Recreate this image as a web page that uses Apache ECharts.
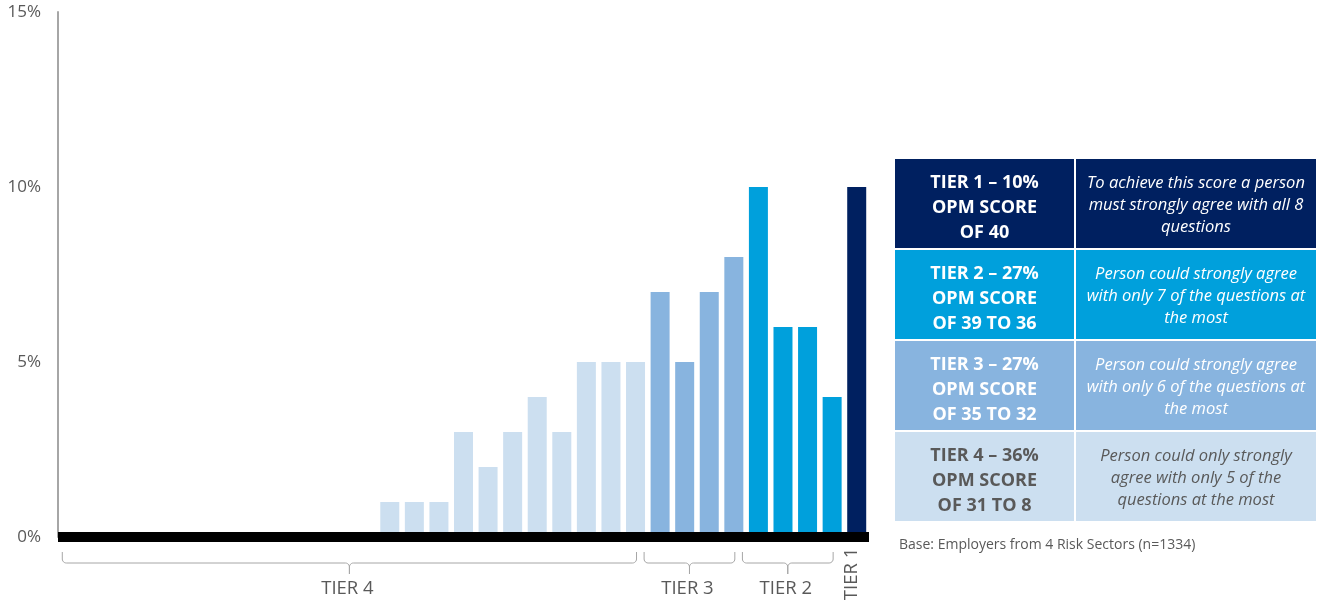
<!DOCTYPE html>
<html>
<head>
<meta charset="utf-8">
<script src="https://cdn.jsdelivr.net/npm/echarts@6/dist/echarts.min.js"></script>
<style>
html,body{margin:0;padding:0;background:#fff;}
#chart{width:1322px;height:602px;}
</style>
</head>
<body>
<div id="chart"></div>
<script>
// ---- data ----
const scores = ['8','9','10','11','12','13','14','15','16','17','18','19','20','21','22','23','24','25','26','27','28','29','30','31','32','33','34','35','36','37','38','39','40'];
const values = [0,0,0,0,0,0,0,0,0,0,0,0,0,1,1,1,3,2,3,4,3,5,5,5,7,5,7,8,10,6,6,4,10];
const yTicks = [0,5,10,15];
const tierNames = ['TIER 1','TIER 2','TIER 3','TIER 4'];
const tierFirstScore = ['40','36','32','8'];
const tierLastScore = ['40','39','35','31'];
const tierHeadings = ['TIER 1 \u2013 10%\nOPM SCORE\nOF 40','TIER 2 \u2013 27%\nOPM SCORE\nOF 39 TO 36','TIER 3 \u2013 27%\nOPM SCORE\nOF 35 TO 32','TIER 4 \u2013 36%\nOPM SCORE\nOF 31 TO 8'];
const tierDescriptions = ['To achieve this score a person\nmust strongly agree with all 8\nquestions','Person could strongly agree\nwith only 7 of the questions at\nthe most','Person could strongly agree\nwith only 6 of the questions at\nthe most','Person could only strongly\nagree with only 5 of the\nquestions at the most'];
const footnote = 'Base: Employers from 4 Risk Sectors (n=1334)';

// ---- style ----
const tierColors = ['#002060','#00A0DC','#88B4DF','#CCDFF0'];
const tierTextColors = ['#ffffff','#ffffff','#ffffff','#595959'];
const FONT = '"Open Sans", "Liberation Sans", sans-serif';
const textGray = '#595959';

function tierIndexOf(score){
  const s = Number(score);
  for (let t = 0; t < tierNames.length; t++) {
    if (s >= Number(tierFirstScore[t]) && s <= Number(tierLastScore[t])) return t;
  }
  return 3;
}

const chart = echarts.init(document.getElementById('chart'), null, {renderer:'canvas'});

const option = {
  animation:false,
  backgroundColor:'#ffffff',
  grid:{left:58, right:453, top:12, bottom:65},
  xAxis:{
    type:'category',
    data:scores,
    z:10,
    axisLine:{show:true, lineStyle:{color:'#000000', width:10, cap:'butt'}},
    axisTick:{show:false},
    axisLabel:{show:false},
    splitLine:{show:false}
  },
  yAxis:{
    type:'value',
    min:yTicks[0], max:yTicks[yTicks.length-1], interval:5,
    axisLine:{show:true, lineStyle:{color:'#A6A6A6', width:2}},
    axisTick:{show:false},
    splitLine:{show:false},
    axisLabel:{formatter:'{value}%', color:textGray, fontSize:17, fontFamily:FONT, margin:17}
  },
  series:[{
    type:'bar',
    barWidth:19,
    data:values.map((v,i)=>({value:v, itemStyle:{color:tierColors[tierIndexOf(scores[i])]}}))
  }]
};
chart.setOption(option);

// ---- annotations: brackets, tier labels, table, footnote ----
const graphics = [];
const zeroY = chart.convertToPixel({yAxisIndex:0}, 0);
const bracketY = zeroY + 26;
const bracketTop = zeroY + 15;
const tipY = zeroY + 37;
const gridLeftPx = chart.convertToPixel({xAxisIndex:0}, scores[0]) - 12;
const stroke = '#A6A6A6';

function arcPts(cx, cy, r, a0, a1){
  const pts = [];
  for (let k = 0; k <= 6; k++) {
    const a = a0 + (a1 - a0) * k / 6;
    pts.push([cx + r*Math.cos(a), cy + r*Math.sin(a)]);
  }
  return pts;
}

for (let t = 1; t < 4; t++) {
  const c1 = chart.convertToPixel({xAxisIndex:0}, tierFirstScore[t]);
  const c2 = chart.convertToPixel({xAxisIndex:0}, tierLastScore[t]);
  const xL = Math.max(c1 - 16, gridLeftPx + 4);
  const xR = c2 + 1;
  const xm = (xL + xR) / 2;
  const r = 4;
  const left = [[xL, bracketTop]]
    .concat(arcPts(xL + r, bracketY - r, r, Math.PI, Math.PI/2))
    .concat(arcPts(xm - r, bracketY + r, r, -Math.PI/2, 0))
    .concat([[xm, tipY]]);
  const right = [[xR, bracketTop]]
    .concat(arcPts(xR - r, bracketY - r, r, 0, Math.PI/2))
    .concat(arcPts(xm + r, bracketY + r, r, -Math.PI/2, -Math.PI))
    .concat([[xm, tipY]]);
  graphics.push({type:'polyline', shape:{points:left}, style:{stroke:stroke, lineWidth:1, fill:null}, silent:true});
  graphics.push({type:'polyline', shape:{points:right}, style:{stroke:stroke, lineWidth:1, fill:null}, silent:true});
  graphics.push({type:'text', x:xm - 2, y:zeroY+52, style:{text:tierNames[t], fill:textGray, font:`18.5px ${FONT}`, align:'center', verticalAlign:'middle'}});
}
// Tier 1 vertical label
const c40 = chart.convertToPixel({xAxisIndex:0}, tierFirstScore[0]);
graphics.push({type:'text', x:c40-5, y:zeroY+37, rotation:Math.PI/2, style:{text:tierNames[0], fill:textGray, font:`18.5px ${FONT}`, align:'center', verticalAlign:'middle'}});

// Table
const tableLeft = 895, col1W = 179, gap = 2, col2W = 240, rowTop = 159, rowH = 89;
for (let t = 0; t < 4; t++) {
  const y = rowTop + t*(rowH+gap);
  graphics.push({type:'rect', shape:{x:tableLeft, y:y, width:col1W, height:rowH}, style:{fill:tierColors[t]}});
  graphics.push({type:'rect', shape:{x:tableLeft+col1W+gap, y:y, width:col2W, height:rowH}, style:{fill:tierColors[t]}});
  graphics.push({type:'text', x:tableLeft+col1W/2, y:y+rowH/2+4, style:{text:tierHeadings[t], fill:tierTextColors[t], font:`bold 18px ${FONT}`, lineHeight:25, align:'center', verticalAlign:'middle'}});
  graphics.push({type:'text', x:tableLeft+col1W+gap+col2W/2, y:y+rowH/2+2, style:{text:tierDescriptions[t], fill:tierTextColors[t], font:`italic 16.5px ${FONT}`, lineHeight:22, align:'center', verticalAlign:'middle'}});
}
graphics.push({type:'text', x:899, y:zeroY+8, style:{text:footnote, fill:textGray, font:`14px ${FONT}`, align:'left', verticalAlign:'middle'}});

chart.setOption({graphic:graphics});
</script>
</body>
</html>
